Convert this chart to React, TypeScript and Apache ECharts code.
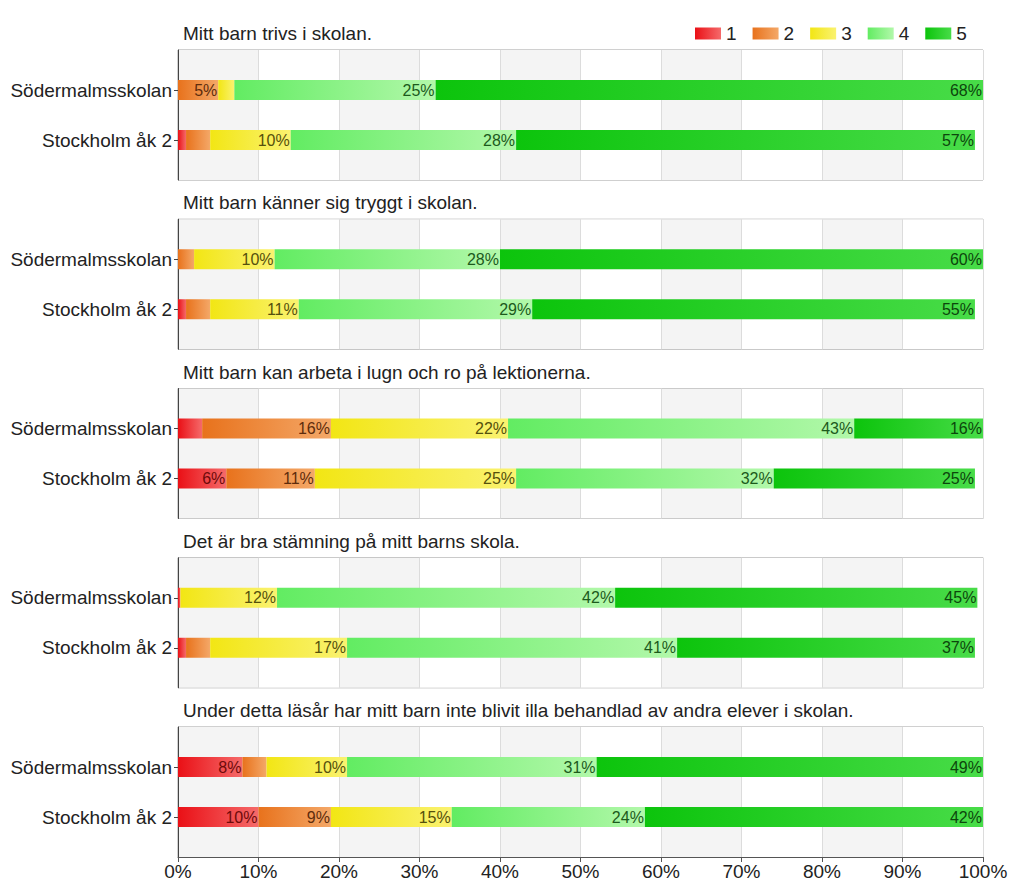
import React, { useEffect, useRef } from "react";
import * as echarts from "echarts";

const categories = ["Södermalmsskolan", "Stockholm åk 2"];
const levels = ["1", "2", "3", "4", "5"];
const questions = [
  "Mitt barn trivs i skolan.",
  "Mitt barn känner sig tryggt i skolan.",
  "Mitt barn kan arbeta i lugn och ro på lektionerna.",
  "Det är bra stämning på mitt barns skola.",
  "Under detta läsår har mitt barn inte blivit illa behandlad av andra elever i skolan.",
];
// percent per level 1..5, one row per question
const sodermalm = [
  [0, 5, 2, 25, 68],
  [0, 2, 10, 28, 60],
  [3, 16, 22, 43, 16],
  [0.3, 0, 12, 42, 45],
  [8, 3, 10, 31, 49],
];
const stockholm = [
  [1, 3, 10, 28, 57],
  [1, 3, 11, 29, 55],
  [6, 11, 25, 32, 25],
  [1, 3, 17, 41, 37],
  [10, 9, 15, 24, 42],
];
const xTicks = [0, 10, 20, 30, 40, 50, 60, 70, 80, 90, 100];

const gradLeft = ["#ea1016", "#e8721c", "#f2e614", "#62ec62", "#0cc40c"];
const gradRight = ["#f56a6a", "#f4a868", "#faf270", "#b2f8aa", "#48dc48"];
const labelColors = ["#6e0a0a", "#5e2c0c", "#55500c", "#1c5a1c", "#0c460c"];

const FONT = "'Liberation Sans', Arial, Helvetica, sans-serif";

export default function App() {
  const ref = useRef<HTMLDivElement>(null);
  useEffect(() => {
    document.body.style.margin = "0";
    const chart = echarts.init(ref.current!, null, { renderer: "svg" });
    const left = 178;
    const right = 1024 - 983;
    const tops = questions.map((_, i) => 50 + i * 169.25);

    const grids: any[] = [];
    const xAxes: any[] = [];
    const yAxes: any[] = [];
    const titles: any[] = [];
    const series: any[] = [];

    questions.forEach((q, p) => {
      const T = tops[p];
      const last = p === questions.length - 1;
      grids.push({
        left,
        right,
        top: T,
        height: 130,
        show: true,
        borderColor: "#a0a0a0",
        borderWidth: 1,
        backgroundColor: "transparent",
      });
      grids.push({ left, right, top: T + 15, height: 100 });
      xAxes.push({
        type: "value",
        gridIndex: 2 * p,
        min: xTicks[0],
        max: xTicks[xTicks.length - 1],
        interval: 10,
        splitArea: { show: true, areaStyle: { color: ["#f4f4f4", "#ffffff"] } },
        splitLine: { show: true, lineStyle: { color: "#dcdcdc" } },
        axisLine: { show: last, lineStyle: { color: "#555" } },
        axisTick: { show: last, length: 5, lineStyle: { color: "#555" } },
        axisLabel: {
          show: last,
          formatter: "{value}%",
          fontSize: 19,
          color: "#222",
          fontFamily: FONT,
          margin: 5,
        },
      });
      xAxes.push({
        type: "value",
        gridIndex: 2 * p + 1,
        min: 0,
        max: 100,
        show: false,
      });
      yAxes.push({
        type: "value",
        gridIndex: 2 * p,
        min: 0,
        max: 1,
        axisLine: { show: true, lineStyle: { color: "#444" } },
        axisTick: { show: false },
        axisLabel: { show: false },
        splitLine: { show: false },
      });
      yAxes.push({
        type: "category",
        gridIndex: 2 * p + 1,
        data: categories,
        inverse: true,
        axisLine: { show: false },
        axisTick: { show: true, alignWithLabel: true, length: 4, lineStyle: { color: "#444" } },
        axisLabel: { fontSize: 19, color: "#222", fontFamily: FONT, margin: 6 },
      });
      titles.push({
        text: q,
        left: 183,
        top: T - 26,
        padding: 0,
        textStyle: { fontSize: 19, fontWeight: "normal", color: "#222", fontFamily: FONT },
      });
      levels.forEach((lv, l) => {
        series.push({
          type: "bar",
          name: lv,
          xAxisIndex: 2 * p + 1,
          yAxisIndex: 2 * p + 1,
          stack: "s" + p,
          barWidth: 20,
          data: [sodermalm[p][l], stockholm[p][l]],
          itemStyle: {
            color: new echarts.graphic.LinearGradient(0, 0, 1, 0, [
              { offset: 0, color: gradLeft[l] },
              { offset: 1, color: gradRight[l] },
            ]),
          },
          label: {
            show: true,
            position: "insideRight",
            distance: 1,
            fontSize: 16,
            fontFamily: FONT,
            color: labelColors[l],
            formatter: (pr: any) => (pr.value >= 5 ? Math.round(pr.value) + "%" : ""),
          },
        });
      });
    });

    chart.setOption({
      animation: false,
      backgroundColor: "#ffffff",
      title: titles,
      legend: {
        data: levels,
        left: 690,
        top: 19,
        itemWidth: 26,
        itemHeight: 12,
        itemGap: 16,
        icon: "rect",
        textStyle: { fontSize: 19, color: "#222", fontFamily: FONT },
      },
      grid: grids,
      xAxis: xAxes,
      yAxis: yAxes,
      series,
    });
    return () => chart.dispose();
  }, []);
  return <div ref={ref} style={{ width: 1024, height: 896 }} />;
}
